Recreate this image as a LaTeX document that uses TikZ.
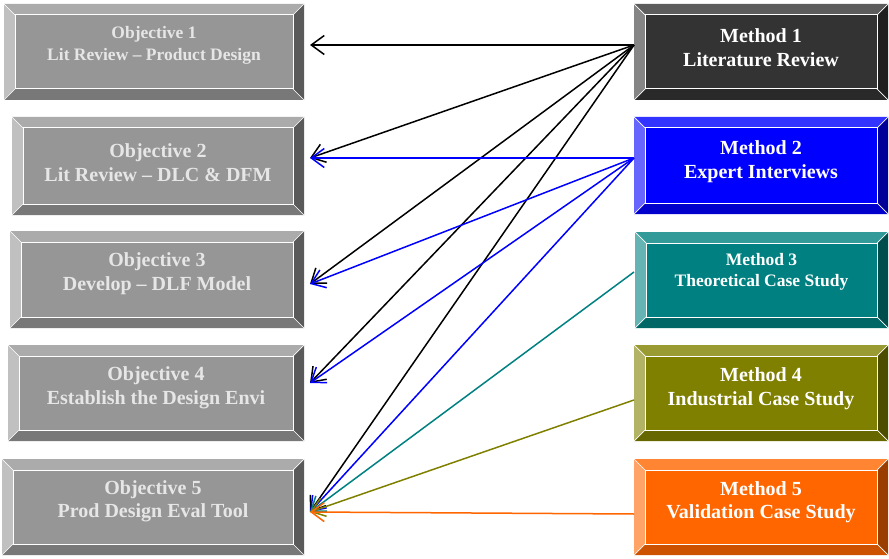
\documentclass[tikz,border=0pt]{standalone}
\usepackage{fontspec}
\setmainfont{Liberation Serif}
\usetikzlibrary{arrows.meta}

\definecolor{objface}{RGB}{150,150,150}
\definecolor{objtext}{RGB}{230,230,230}
\definecolor{m1face}{RGB}{51,51,51}
\definecolor{m2face}{RGB}{0,0,255}
\definecolor{m3face}{RGB}{0,128,128}
\definecolor{m4face}{RGB}{128,128,0}
\definecolor{m5face}{RGB}{255,102,0}

\tikzset{
  % raised panel: face colour plus four bevelled edges
  bevel/.style={rectangle, inner sep=0pt, outer sep=0pt, fill=#1,
    path picture={
      \coordinate (pNW) at (path picture bounding box.north west);
      \coordinate (pNE) at (path picture bounding box.north east);
      \coordinate (pSE) at (path picture bounding box.south east);
      \coordinate (pSW) at (path picture bounding box.south west);
      \coordinate (iNW) at ([shift={(11pt,-11pt)}]pNW);
      \coordinate (iNE) at ([shift={(-11pt,-11pt)}]pNE);
      \coordinate (iSE) at ([shift={(-11pt,11pt)}]pSE);
      \coordinate (iSW) at ([shift={(11pt,11pt)}]pSW);
      \fill[#1!80!white] (pNW) -- (pNE) -- (iNE) -- (iNW) -- cycle;
      \fill[#1!60!white] (pNW) -- (iNW) -- (iSW) -- (pSW) -- cycle;
      \fill[#1!60!black] (pNE) -- (pSE) -- (iSE) -- (iNE) -- cycle;
      \fill[#1!80!black] (pSW) -- (iSW) -- (iSE) -- (pSE) -- cycle;
      \draw[white, line width=1pt] (iNW) rectangle (iSE);
      \draw[white, line width=0.7pt] (pNW) -- (iNW) (pNE) -- (iNE)
        (pSE) -- (iSE) (pSW) -- (iSW);
    }},
  label20/.style={align=center, inner sep=0pt, font=\bfseries\fontsize{20}{23.5}\selectfont},
  label17/.style={align=center, inner sep=0pt, font=\bfseries\fontsize{17.5}{21.5}\selectfont},
  objlabel/.style={text=objtext},
  methlabel/.style={text=white},
  link/.style={line width=1.5pt, -{Straight Barb[length=13pt,width=19pt]}}
}

\begin{document}
\begin{tikzpicture}[x=1pt, y=-1pt]
\useasboundingbox (0,0) rectangle (889,559);

% objectives (left column)
\node[bevel=objface, minimum width=300pt, minimum height=96pt] (o1) at (154,52) {};
\node[bevel=objface, minimum width=292pt, minimum height=98pt] (o2) at (158,166) {};
\node[bevel=objface, minimum width=294pt, minimum height=97pt] (o3) at (157,279.5) {};
\node[bevel=objface, minimum width=296pt, minimum height=96pt] (o4) at (156,393) {};
\node[bevel=objface, minimum width=302pt, minimum height=96pt] (o5) at (153,507) {};

\node[label17, objlabel] (o1t) at (154,45.5) {Objective 1\\Lit Review – Product Design};
\node[label20, objlabel] (o2t) at (158,162.5) {Objective 2\\Lit Review – DLC \& DFM};
\node[label20, objlabel] (o3t) at (157,273.5) {Objective 3\\Develop – DLF Model};
\node[label20, objlabel] (o4t) at (156,388) {Objective 4\\Establish the Design Envi};
\node[label20, objlabel] (o5t) at (153,501.5) {Objective 5\\Prod Design Eval Tool};

% methods (right column)
\node[bevel=m1face, minimum width=254pt, minimum height=96pt] (m1) at (761,52) {};
\node[bevel=m2face, minimum width=254pt, minimum height=97pt] (m2) at (761,165.5) {};
\node[bevel=m3face, minimum width=253pt, minimum height=96pt] (m3) at (761.5,280) {};
\node[bevel=m4face, minimum width=254pt, minimum height=96pt] (m4) at (761,393) {};
\node[bevel=m5face, minimum width=254pt, minimum height=96pt] (m5) at (761,507) {};

\node[label20, methlabel] (m1t) at (761,47.5) {Method 1\\Literature Review};
\node[label20, methlabel] (m2t) at (761,161.5) {Method 2\\Expert Interviews};
\node[label17, methlabel] (m3t) at (761.5,272) {Method 3\\Theoretical Case Study};
\node[label20, methlabel] (m4t) at (761,388.5) {Method 4\\Industrial Case Study};
\node[label20, methlabel] (m5t) at (761,502) {Method 5\\Validation Case Study};

% connector end points
\coordinate (m1out) at (634,45);
\coordinate (m2out) at (634,158);
\coordinate (m3out) at (634,272);
\coordinate (m4out) at (634,400);
\coordinate (m5out) at (634,514);
\coordinate (o1in) at (310,45);
\coordinate (o2in) at (310,158);
\coordinate (o3in) at (310,284);
\coordinate (o4in) at (310,383);
\coordinate (o5in) at (310,512);

% method 1 feeds every objective
\draw[link, black] (m1out) -- (o1in);
\draw[link, black] (m1out) -- (o2in);
\draw[link, black] (m1out) -- (o3in);
\draw[link, black] (m1out) -- (o4in);
\draw[link, black] (m1out) -- (o5in);
% method 2 feeds objectives 2 to 5
\draw[link, m2face] (m2out) -- (o2in);
\draw[link, m2face] (m2out) -- (o3in);
\draw[link, m2face] (m2out) -- (o4in);
\draw[link, m2face] (m2out) -- (o5in);
% methods 3 to 5 feed objective 5
\draw[link, m3face] (m3out) -- (o5in);
\draw[link, m4face] (m4out) -- (o5in);
\draw[link, m5face] (m5out) -- (o5in);
\end{tikzpicture}
\end{document}
